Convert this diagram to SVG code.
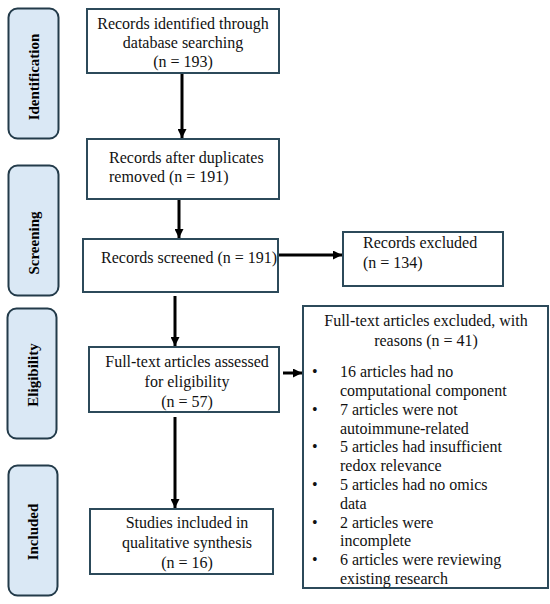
<svg xmlns="http://www.w3.org/2000/svg" width="550" height="604" viewBox="0 0 550 604" font-family="Liberation Serif, serif">
<style>
.stage{fill:#dae8f5;stroke:#233b4a;stroke-width:2}
.box{fill:#fff;stroke:#2c4a5a;stroke-width:2}
.lbl{font-weight:bold;font-size:15px;fill:#000}
.t{font-size:16px;fill:#111}
.mid{text-anchor:middle}
.con{stroke:#000;stroke-width:3;fill:none}
</style>
<defs>
<marker id="ah" markerWidth="10" markerHeight="9" refX="9" refY="4.5" orient="auto" markerUnits="userSpaceOnUse">
<path d="M0,0 L9,4.5 L0,9 Z" fill="#000"/>
</marker>
</defs>
<rect width="550" height="604" fill="#fff"/>
<g id="stage-identification">
<rect class="stage" x="8.5" y="8.5" width="50" height="130" rx="9"/>
<text class="lbl mid" transform="translate(39,77) rotate(-90)">Identification</text>
</g>
<g id="stage-screening">
<rect class="stage" x="8.5" y="165.5" width="50" height="130" rx="9"/>
<text class="lbl mid" transform="translate(39,243) rotate(-90)">Screening</text>
</g>
<g id="stage-eligibility">
<rect class="stage" x="7.5" y="308.5" width="49" height="130" rx="9"/>
<text class="lbl mid" transform="translate(38,375) rotate(-90)">Eligibility</text>
</g>
<g id="stage-included">
<rect class="stage" x="8.5" y="465.5" width="49" height="130" rx="9"/>
<text class="lbl mid" transform="translate(38,532) rotate(-90)">Included</text>
</g>
<g id="connectors">
<line class="con" x1="182" y1="74" x2="182" y2="138" marker-end="url(#ah)"/>
<line class="con" x1="179" y1="200" x2="179" y2="238" marker-end="url(#ah)"/>
<line class="con" x1="175" y1="296" x2="175" y2="346" marker-end="url(#ah)"/>
<line class="con" x1="175" y1="417" x2="175" y2="508" marker-end="url(#ah)"/>
<line class="con" x1="278" y1="255" x2="342" y2="255" marker-end="url(#ah)"/>
<line class="con" x1="283" y1="373" x2="302" y2="373" marker-end="url(#ah)"/>
</g>
<g id="identified">
<rect class="box" x="87" y="9" width="192" height="64"/>
<text class="t mid" x="183" y="29">Records identified through</text>
<text class="t mid" x="183" y="48">database searching</text>
<text class="t mid" x="183" y="67">(n = 193)</text>
</g>
<g id="after-duplicates">
<rect class="box" x="87" y="139" width="192" height="60"/>
<text class="t" x="109" y="163">Records after duplicates</text>
<text class="t" x="109" y="182">removed (n = 191)</text>
</g>
<g id="screened">
<rect class="box" x="83" y="239" width="195" height="53"/>
<text class="t" x="101" y="263">Records screened (n = 191)</text>
</g>
<g id="records-excluded">
<rect class="box" x="343" y="232" width="160" height="54"/>
<text class="t" x="363" y="248">Records excluded</text>
<text class="t" x="363" y="268">(n = 134)</text>
</g>
<g id="assessed">
<rect class="box" x="89" y="347" width="190" height="65"/>
<text class="t mid" x="187" y="367">Full-text articles assessed</text>
<text class="t mid" x="187" y="387">for eligibility</text>
<text class="t mid" x="187" y="407">(n = 57)</text>
</g>
<g id="articles-excluded">
<rect class="box" x="303" y="306" width="245" height="282"/>
<text class="t mid" x="426" y="326">Full-text articles excluded, with</text>
<text class="t mid" x="426" y="346">reasons (n = 41)</text>
<text class="t" x="312" y="377">•</text><text class="t" x="340" y="377">16 articles had no</text>
<text class="t" x="340" y="396">computational component</text>
<text class="t" x="312" y="415">•</text><text class="t" x="340" y="415">7 articles were not</text>
<text class="t" x="340" y="434">autoimmune-related</text>
<text class="t" x="312" y="452">•</text><text class="t" x="340" y="452">5 articles had insufficient</text>
<text class="t" x="340" y="471">redox relevance</text>
<text class="t" x="312" y="490">•</text><text class="t" x="340" y="490">5 articles had no omics</text>
<text class="t" x="340" y="509">data</text>
<text class="t" x="312" y="528">•</text><text class="t" x="340" y="528">2 articles were</text>
<text class="t" x="340" y="546">incomplete</text>
<text class="t" x="312" y="565">•</text><text class="t" x="340" y="565">6 articles were reviewing</text>
<text class="t" x="340" y="584">existing research</text>
</g>
<g id="included">
<rect class="box" x="90" y="509" width="183" height="65"/>
<text class="t mid" x="187" y="528">Studies included in</text>
<text class="t mid" x="187" y="548">qualitative synthesis</text>
<text class="t mid" x="187" y="568">(n = 16)</text>
</g>
</svg>
